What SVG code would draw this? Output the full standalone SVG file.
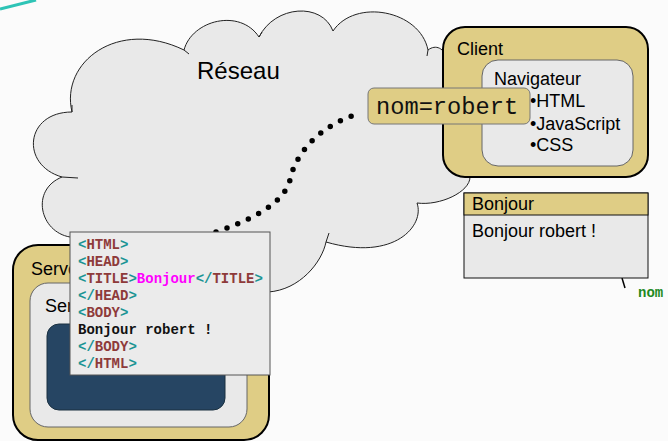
<svg xmlns="http://www.w3.org/2000/svg" width="668" height="441" viewBox="0 0 668 441">
<style>
.sans{font-family:"Liberation Sans",Arial,sans-serif;fill:#000}
.code{font-family:"Liberation Mono","Courier New",monospace;font-weight:bold;font-size:14px;fill:#111}
.br{fill:#1a9494}
.tg{fill:#8e3a3a}
.mg{fill:#ff00ff}
.tan{fill:#dfcd85}
.grey{fill:#e9e9e9}
</style>
<rect width="668" height="441" fill="#fbfbfb"/>
<path d="M0,9 L36,0" stroke="#2ec4b6" stroke-width="3"/>

<g id="reseau">
<path d="M72,112 C60,62 118,18 184,50 C192,20 240,8 259,37 C275,5 322,2 333,31 C355,-2 420,10 428,50 C436,44 444,48 448,60 L640,60 L640,170 L470,177 C470,192 440,206 417,203 C425,225 395,262 326,242 C322,262 300,290 268,292 L200,292 L70,237 C40,232 30,190 62,177 C20,165 25,112 72,112 Z" class="grey" stroke="#222" stroke-width="1"/>
<path d="M184,50 L189,54 M259,37 L262,32 M428,50 L427,56 M326,242 L329,233 M62,177 L78,178 M72,112 L72,105" fill="none" stroke="#222" stroke-width="1"/>
<text class="sans" x="197" y="79" font-size="24">Réseau</text>
</g>

<g id="client">
<rect x="443" y="27" width="205" height="150" rx="22" class="tan" stroke="#000" stroke-width="2"/>
<text class="sans" x="457" y="55" font-size="18">Client</text>
<rect x="482" y="60" width="151" height="106" rx="16" class="grey" stroke="#666" stroke-width="1"/>
<text class="sans" x="494" y="85" font-size="18">Navigateur</text>
<text class="sans" x="530" y="107" font-size="18">•HTML</text>
<text class="sans" x="530" y="130" font-size="18">•JavaScript</text>
<text class="sans" x="530" y="151" font-size="18">•CSS</text>
</g>

<g id="connecteurs">
<path d="M216,232 C250,220 283,205 290,180 C296,150 325,122 362,113" fill="none" stroke="#000" stroke-width="5.5" stroke-linecap="round" stroke-dasharray="0 11.6"/>
<path d="M622,278 L625,288" stroke="#000" stroke-width="1.5"/>
</g>

<g id="nom-robert">
<rect x="368" y="88" width="162" height="36" rx="6" class="tan" stroke="#777" stroke-width="1"/>
<text x="376" y="114" font-family="'Liberation Mono','Courier New',monospace" font-size="23.7" fill="#111">nom=robert</text>
</g>

<g id="fenetre-bonjour">
<rect x="464" y="193" width="184" height="85" class="grey" stroke="#111" stroke-width="1"/>
<rect x="464" y="193" width="184" height="22" class="tan" stroke="#111" stroke-width="1"/>
<text class="sans" x="472" y="210" font-size="18">Bonjour</text>
<text class="sans" x="472" y="237" font-size="18">Bonjour robert !</text>
</g>

<g id="requete">
<text x="638" y="297" font-family="'Liberation Mono','Courier New',monospace" font-weight="bold" font-size="14" fill="#1f8a1f">nom</text>
</g>

<g id="serveur">
<rect x="13" y="245" width="256" height="195" rx="25" class="tan" stroke="#000" stroke-width="2"/>
<text class="sans" x="31" y="275" font-size="18">Serve</text>
<rect x="30" y="283" width="217" height="144" rx="18" class="grey" stroke="#666" stroke-width="1"/>
<text class="sans" x="45" y="312" font-size="18">Ser</text>
<rect x="47" y="324" width="178" height="86" rx="12" fill="#264563" stroke="#1a3040" stroke-width="1"/>
</g>

<g id="code-html">
<rect x="70" y="232" width="200" height="143" fill="#ebebeb" stroke="#555" stroke-width="1"/>
<text class="code" x="78" y="249"><tspan class="br">&lt;</tspan><tspan class="tg">HTML</tspan><tspan class="br">&gt;</tspan></text>
<text class="code" x="78" y="266"><tspan class="br">&lt;</tspan><tspan class="tg">HEAD</tspan><tspan class="br">&gt;</tspan></text>
<text class="code" x="78" y="283"><tspan class="br">&lt;</tspan><tspan class="tg">TITLE</tspan><tspan class="br">&gt;</tspan><tspan class="mg">Bonjour</tspan><tspan class="br">&lt;/</tspan><tspan class="tg">TITLE</tspan><tspan class="br">&gt;</tspan></text>
<text class="code" x="78" y="300"><tspan class="br">&lt;/</tspan><tspan class="tg">HEAD</tspan><tspan class="br">&gt;</tspan></text>
<text class="code" x="78" y="317"><tspan class="br">&lt;</tspan><tspan class="tg">BODY</tspan><tspan class="br">&gt;</tspan></text>
<text class="code" x="78" y="334">Bonjour robert !</text>
<text class="code" x="78" y="351"><tspan class="br">&lt;/</tspan><tspan class="tg">BODY</tspan><tspan class="br">&gt;</tspan></text>
<text class="code" x="78" y="368"><tspan class="br">&lt;/</tspan><tspan class="tg">HTML</tspan><tspan class="br">&gt;</tspan></text>
</g>
</svg>
